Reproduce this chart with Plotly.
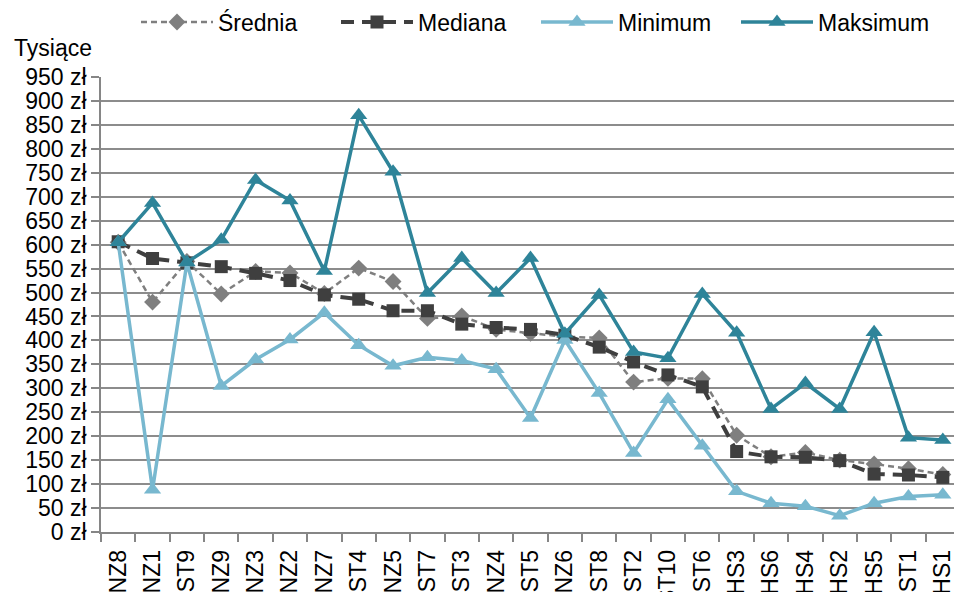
import plotly.graph_objects as go

categories = ["NZ8", "NZ1", "ST9", "NZ9", "NZ3", "NZ2", "NZ7", "ST4", "NZ5", "ST7", "ST3", "NZ4",
              "ST5", "NZ6", "ST8", "ST2", "ST10", "ST6", "HS3", "HS6", "HS4", "HS2", "HS5", "ST1", "HS1"]

srednia = [605, 480, 565, 497, 544, 541, 498, 551, 523, 446, 451, 423,
           415, 408, 405, 313, 321, 320, 202, 157, 166, 150, 142, 132, 120]
mediana = [606, 571, 562, 554, 540, 525, 495, 486, 462, 462, 434, 427,
           423, 411, 386, 355, 328, 303, 168, 157, 156, 149, 121, 119, 114]
minimum = [605, 88, 562, 305, 360, 402, 458, 390, 347, 365, 358, 340,
           238, 401, 290, 165, 277, 180, 85, 60, 54, 34, 60, 74, 78]
maksimum = [605, 687, 563, 610, 735, 692, 545, 870, 752, 499, 572, 499,
            572, 414, 495, 376, 363, 497, 416, 257, 311, 257, 417, 197, 192]

y_ticks = list(range(0, 951, 50))
y_tick_text = [f"{v} zł" for v in y_ticks]

FONT = "Liberation Sans, Arial, sans-serif"

fig = go.Figure()
fig.add_trace(go.Scatter(
    x=categories, y=srednia, name="Średnia", mode="lines+markers",
    line=dict(color="#7f7f7f", width=2.5, dash="6px,4px"),
    marker=dict(symbol="diamond", size=13, color="#7f7f7f")))
fig.add_trace(go.Scatter(
    x=categories, y=mediana, name="Mediana", mode="lines+markers",
    line=dict(color="#3f3f3f", width=4, dash="13px,8px"),
    marker=dict(symbol="square", size=13, color="#3f3f3f")))
fig.add_trace(go.Scatter(
    x=categories, y=minimum, name="Minimum", mode="lines+markers",
    line=dict(color="#78b8cf", width=3.5),
    marker=dict(symbol="triangle-up", size=15, color="#78b8cf")))
fig.add_trace(go.Scatter(
    x=categories, y=maksimum, name="Maksimum", mode="lines+markers",
    line=dict(color="#2e8499", width=3.5),
    marker=dict(symbol="triangle-up", size=15, color="#2e8499")))

W, H = 954, 584
fig.update_layout(
    width=W, height=H,
    margin=dict(l=93, r=2, t=69, b=60, autoexpand=False),
    paper_bgcolor="white", plot_bgcolor="white",
    font=dict(family=FONT, size=23, color="black"),
    showlegend=True,
    legend=dict(orientation="h", xref="container", yref="container",
                x=128 / W, y=1 - 14 / H, xanchor="left", yanchor="middle",
                itemwidth=72, entrywidth=113, entrywidthmode="pixels",
                font=dict(family=FONT, size=23, color="black"),
                bgcolor="rgba(0,0,0,0)", tracegroupgap=0),
    annotations=[dict(text="Tysiące", xref="paper", yref="paper",
                      x=-89 / 859, y=1 + 29 / 455, xanchor="left", yanchor="middle",
                      showarrow=False, font=dict(family=FONT, size=23, color="black"))],
)

fig.update_xaxes(
    type="category", range=[-0.5, 24.5], tickangle=-90,
    showline=True, linecolor="#868686", linewidth=1.5,
    ticks="outside", tickson="boundaries", ticklen=8, tickcolor="#868686", tickwidth=1.5,
    ticklabelstandoff=7,
    showgrid=False, automargin=False,
    tickfont=dict(family=FONT, size=23, color="black"))
fig.update_yaxes(
    range=[0, 950], tickmode="array", tickvals=y_ticks, ticktext=y_tick_text,
    showline=True, linecolor="#868686", linewidth=1.5,
    ticks="outside", ticklen=8, tickcolor="#868686", tickwidth=1.5,
    showgrid=True, gridcolor="#8c8c8c", gridwidth=1.5, zeroline=False,
    automargin=False,
    tickfont=dict(family=FONT, size=23, color="black"))

fig.write_html("out.html")
